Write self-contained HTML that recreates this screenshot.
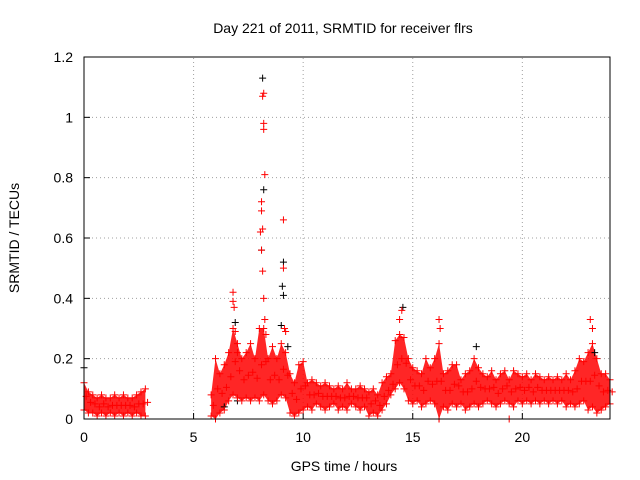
<!DOCTYPE html>
<html><head><meta charset="utf-8">
<style>
html,body{margin:0;padding:0;background:#fff;}
svg{display:block;font-family:"Liberation Sans",Arial,sans-serif;}
</style></head>
<body>
<svg id="chart" width="640" height="480" viewBox="0 0 640 480">
<rect width="640" height="480" fill="#fff"/>
<text x="343" y="33" font-size="14" text-anchor="middle" fill="#000">Day 221 of 2011, SRMTID for receiver flrs</text>
<text x="0" y="0" font-size="14" text-anchor="middle" transform="translate(19,238) rotate(-90)">SRMTID / TECUs</text>
<text x="344" y="471" font-size="14" text-anchor="middle">GPS time / hours</text>
<g id="grid"></g>
<g id="marks"></g>
<rect x="84" y="57" width="526" height="362" fill="none" stroke="#000" stroke-width="1"/>
</svg>
<script>
const xTicks=[0,5,10,15,20];
const yTicks=[0,0.2,0.4,0.6,0.8,1,1.2];
const yTickLabels=["0","0.2","0.4","0.6","0.8","1","1.2"];
const times1=[0,0.2,0.4,0.6,0.8,1.0,1.2,1.4,1.6,1.8,2.0,2.2,2.4,2.6,2.8];
const low1=[0.03,0.02,0.02,0.01,0.02,0.01,0.02,0.01,0.02,0.01,0.02,0.01,0.02,0.01,0.01];
const high1=[0.12,0.09,0.08,0.07,0.08,0.07,0.07,0.08,0.07,0.08,0.07,0.07,0.08,0.09,0.10];
const times2=[5.8,6.0,6.2,6.4,6.6,6.8,7.0,7.2,7.4,7.6,7.8,8.0,8.2,8.4,8.6,8.8,9.0,9.2,9.4,9.6,9.8,10.0,10.2,10.4,10.6,10.8,11.0,11.2,11.4,11.6,11.8,12.0,12.2,12.4,12.6,12.8,13.0,13.2,13.4,13.6,13.8,14.0,14.2,14.4,14.6,14.8,15.0,15.2,15.4,15.6,15.8,16.0,16.2,16.4,16.6,16.8,17.0,17.2,17.4,17.6,17.8,18.0,18.2,18.4,18.6,18.8,19.0,19.2,19.4,19.6,19.8,20.0,20.2,20.4,20.6,20.8,21.0,21.2,21.4,21.6,21.8,22.0,22.2,22.4,22.6,22.8,23.0,23.2,23.4,23.6,23.8,24.0];
const high2=[0.08,0.2,0.15,0.18,0.22,0.3,0.25,0.2,0.22,0.25,0.2,0.3,0.3,0.2,0.24,0.2,0.25,0.22,0.15,0.12,0.18,0.19,0.12,0.13,0.12,0.11,0.12,0.11,0.1,0.11,0.1,0.12,0.1,0.1,0.11,0.1,0.09,0.1,0.08,0.12,0.14,0.15,0.26,0.28,0.27,0.2,0.17,0.16,0.15,0.2,0.17,0.2,0.25,0.15,0.16,0.18,0.18,0.13,0.15,0.16,0.2,0.17,0.15,0.14,0.16,0.13,0.15,0.16,0.13,0.16,0.15,0.14,0.15,0.13,0.15,0.14,0.13,0.14,0.13,0.14,0.13,0.15,0.13,0.16,0.2,0.19,0.22,0.25,0.2,0.15,0.15,0.13];
const low2=[0.01,0.0,0.02,0.03,0.06,0.08,0.07,0.06,0.07,0.06,0.07,0.06,0.08,0.06,0.05,0.06,0.08,0.07,0.02,0.01,0.02,0.03,0.04,0.03,0.05,0.04,0.03,0.04,0.05,0.03,0.04,0.03,0.05,0.04,0.03,0.04,0.01,0.02,0.01,0.03,0.05,0.08,0.1,0.12,0.1,0.06,0.05,0.06,0.04,0.05,0.06,0.05,0.0,0.04,0.03,0.05,0.04,0.05,0.03,0.04,0.05,0.04,0.05,0.06,0.05,0.04,0.05,0.06,0.05,0.04,0.06,0.05,0.06,0.05,0.06,0.05,0.06,0.05,0.06,0.05,0.06,0.04,0.05,0.04,0.05,0.06,0.03,0.04,0.02,0.03,0.04,0.05];
const spikeRedT=[6.8,6.8,6.85,6.9,7.0,8.1,8.15,8.2,8.2,8.2,8.25,8.1,8.15,8.1,8.15,8.2,8.25,8.3,8.05,9.1,9.1,9.15,9.2,14.5,14.4,16.2,16.25,23.1,23.2,16.2,19.4];
const spikeRedV=[0.42,0.39,0.37,0.29,0.22,0.72,1.07,1.08,0.98,0.96,0.81,0.69,0.63,0.56,0.49,0.40,0.33,0.28,0.62,0.66,0.50,0.30,0.29,0.36,0.33,0.33,0.30,0.33,0.30,0.0,0.0];
const spikeBlackT=[8.15,8.2,8.1,9.1,9.05,9.1,9.0,14.55,17.9,6.9,0.0,23.3,9.3,6.4,7.0];
const spikeBlackV=[1.13,0.76,0.56,0.52,0.44,0.41,0.31,0.37,0.24,0.32,0.17,0.22,0.24,0.04,0.06];

const NS="http://www.w3.org/2000/svg";
const X0=84,X1=610,Y0=419,Y1=57;
function xs(t){return X0+(t/24)*(X1-X0);}
function ys(v){return Y0-(v/1.2)*(Y0-Y1);}
const grid=document.getElementById('grid');
const marks=document.getElementById('marks');
function mk(tag,attrs,parent){const e=document.createElementNS(NS,tag);for(const k in attrs)e.setAttribute(k,attrs[k]);parent.appendChild(e);return e;}
xTicks.forEach((t,i)=>{
  const x=xs(t);
  if(t>0){const g=mk('line',{x1:x,x2:x,y1:Y0,y2:Y1,stroke:'#a0a0a0','stroke-dasharray':'1,3'},grid);
  
  }
  const tk=mk('line',{x1:x,x2:x,y1:Y0,y2:Y0-6,stroke:'#000'},grid);
  
  
  const l=mk('text',{x:x,y:442,'font-size':14,'text-anchor':'middle'},grid);l.textContent=String(t);
  
  
});
yTicks.forEach((v,i)=>{
  const y=ys(v);
  if(v>0&&v<1.2){const g=mk('line',{x1:X0,x2:X1,y1:y,y2:y,stroke:'#a0a0a0','stroke-dasharray':'1,3'},grid);
  
  }
  const tk=mk('line',{x1:X0,x2:X0+6,y1:y,y2:y,stroke:'#000'},grid);
  
  
  const l=mk('text',{x:73,y:y+5,'font-size':14,'text-anchor':'end'},grid);l.textContent=yTickLabels[i];
  
  
});
function band(times,low,high){
  let d='';
  times.forEach((t,i)=>{d+=(i?'L':'M')+xs(t)+','+ys(high[i]);});
  for(let i=times.length-1;i>=0;i--)d+='L'+xs(times[i])+','+ys(low[i]);
  const p=mk('path',{d:d+'Z',fill:'#ff0000','fill-opacity':0.85},marks);
  
  
}
function plus(t,v,color,name){
  const x=xs(t),y=ys(v);
  const p=mk('path',{d:`M${x-3.5},${y}H${x+3.5}M${x},${y-3.5}V${y+3.5}`,stroke:color,'stroke-width':1},marks);
  
  
}
band(times1,low1,high1);
band(times2,low2,high2);
spikeBlackT.forEach((t,i)=>plus(t,spikeBlackV[i],'#000','black-point'));
[[times1,low1,high1],[times2,low2,high2]].forEach(([T,L,H])=>{
  T.forEach((t,i)=>{plus(t,L[i],'#ff0000','red-point-low');plus(t,H[i],'#ff0000','red-point-high');plus(t+0.1,(L[i]+H[i])/2,'#ff0000','red-point-mid');});
});
spikeRedT.forEach((t,i)=>plus(t,spikeRedV[i],'#ff0000','red-spike-point'));
</script>
</body></html>
